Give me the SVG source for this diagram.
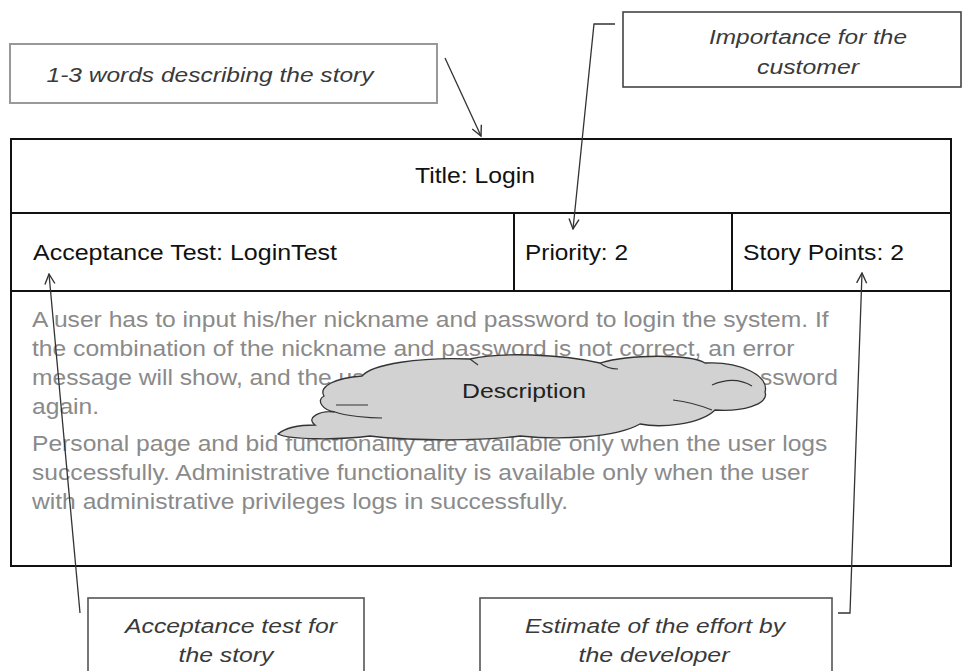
<svg xmlns="http://www.w3.org/2000/svg" width="963" height="671" viewBox="0 0 963 671">
<defs>
<style>
.main{font-family:"Liberation Sans",Arial,sans-serif;font-size:22px;fill:#111}
.desc{font-family:"Liberation Sans",Arial,sans-serif;font-size:22px;fill:#8a8a8a}
.note{font-family:"Liberation Sans",Arial,sans-serif;font-size:20px;font-style:italic;fill:#3a3a3a;text-anchor:middle}
.box{fill:#fff;stroke:#555;stroke-width:1.6}
.card{fill:#fff;stroke:#111;stroke-width:2}
.line{fill:none;stroke:#111;stroke-width:2}
.conn{fill:none;stroke:#333;stroke-width:1.3}
</style>
<marker id="arr" viewBox="0 0 12 12" refX="11" refY="6" markerWidth="12" markerHeight="12" markerUnits="userSpaceOnUse" orient="auto">
<path d="M1,1 L11,6 L1,11" fill="none" stroke="#333" stroke-width="1.4"/>
</marker>
</defs>
<rect width="963" height="671" fill="#fff"/>

<g id="card">
<rect class="card" x="11" y="139" width="940" height="427"/>
<line class="line" x1="11" y1="213" x2="951" y2="213"/>
<line class="line" x1="11" y1="291" x2="951" y2="291"/>
<line class="line" x1="514" y1="213" x2="514" y2="291"/>
<line class="line" x1="732" y1="213" x2="732" y2="291"/>
</g>

<g id="title"><text class="main" x="415" y="183" textLength="120" lengthAdjust="spacingAndGlyphs">Title: Login</text></g>
<g id="acceptance"><text class="main" x="33" y="260" textLength="304" lengthAdjust="spacingAndGlyphs">Acceptance Test: LoginTest</text></g>
<g id="priority"><text class="main" x="525" y="260" textLength="103" lengthAdjust="spacingAndGlyphs">Priority: 2</text></g>
<g id="storypoints"><text class="main" x="743" y="260" textLength="161" lengthAdjust="spacingAndGlyphs">Story Points: 2</text></g>

<g id="description" transform="translate(32 0) scale(1.12 1)">
<text class="desc" x="0" y="327">A user has to input his/her nickname and password to login the system. If</text>
<text class="desc" x="0" y="356">the combination of the nickname and password is not correct, an error</text>
<text class="desc" x="0" y="385">message will show, and the user</text>
<text class="desc" x="719.6" y="385" text-anchor="end">password</text>
<text class="desc" x="0" y="414">again.</text>
<text class="desc" x="0" y="451">Personal page and bid functionality are available only when the user logs</text>
<text class="desc" x="0" y="480">successfully. Administrative functionality is available only when the user</text>
<text class="desc" x="0" y="509">with administrative privileges logs in successfully.</text>
</g>

<g id="cloud">
<path d="M 324 396 C 318 386, 336 378, 362 376 C 372 364, 420 357, 470 359 C 500 352, 560 354, 600 363 C 630 354, 690 354, 705 363 C 740 361, 770 376, 765 392 C 770 405, 740 412, 715 410 C 700 425, 660 428, 640 424 C 615 438, 560 440, 520 436 C 470 442, 400 440, 370 436 C 340 440, 290 440, 278 434 C 285 428, 300 425, 315 425 C 305 418, 320 410, 335 412 C 322 410, 316 400, 324 396 Z" fill="#d2d2d2" stroke="#333" stroke-width="1.3"/>
<path d="M 336 405 L 368 405 M 335 412 C 345 416, 370 418, 382 418 M 673 400 C 690 402, 702 406, 712 410 M 712 385 C 728 378, 742 380, 752 386 M 600 363 C 605 367, 612 369, 618 369 M 470 359 L 478 365" fill="none" stroke="#333" stroke-width="1.1"/>
<text class="main" x="462" y="398" textLength="124" lengthAdjust="spacingAndGlyphs" style="font-size:21px;fill:#222">Description</text>
</g>

<g id="note-title">
<rect x="10" y="44" width="427" height="59" fill="#fff" stroke="#999" stroke-width="2"/>
<text class="note" x="210" y="82" textLength="327" lengthAdjust="spacingAndGlyphs">1-3 words describing the story</text>
</g>

<g id="note-importance">
<rect class="box" x="623" y="12" width="338" height="75" style="stroke:#444"/>
<text class="note" x="808" y="44" textLength="198" lengthAdjust="spacingAndGlyphs">Importance for the</text>
<text class="note" x="808" y="74" textLength="102" lengthAdjust="spacingAndGlyphs">customer</text>
</g>

<g id="note-acceptance">
<rect class="box" x="88" y="598" width="276" height="90"/>
<text class="note" x="231" y="633" textLength="212" lengthAdjust="spacingAndGlyphs">Acceptance test for</text>
<text class="note" x="226" y="662" textLength="95" lengthAdjust="spacingAndGlyphs">the story</text>
</g>

<g id="note-estimate">
<rect class="box" x="480" y="598" width="352" height="90"/>
<text class="note" x="655" y="633" textLength="260" lengthAdjust="spacingAndGlyphs">Estimate of the effort by</text>
<text class="note" x="654" y="662" textLength="151" lengthAdjust="spacingAndGlyphs">the developer</text>
</g>

<g id="connectors">
<path class="conn" d="M 445 58 L 481 136" marker-end="url(#arr)"/>
<path class="conn" d="M 615 24 L 594 24 L 573 229" marker-end="url(#arr)"/>
<path class="conn" d="M 80 613 L 49 274" marker-end="url(#arr)"/>
<path class="conn" d="M 838 613 L 850 613 L 862 273" marker-end="url(#arr)"/>
</g>
</svg>
